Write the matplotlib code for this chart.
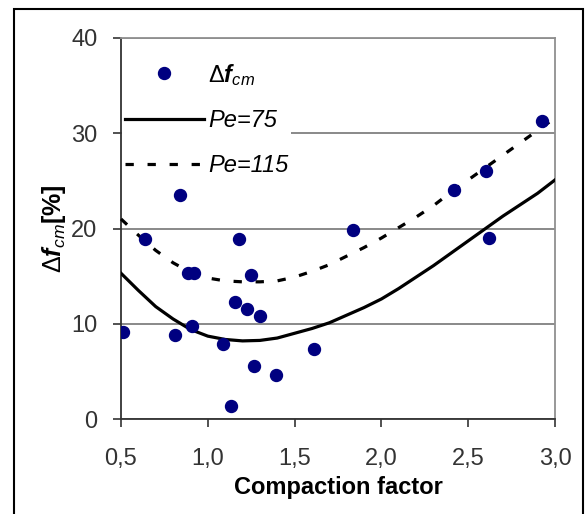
import matplotlib as mpl

mpl.use("Agg")
import matplotlib.pyplot as plt
from matplotlib.patches import Rectangle

plt.rcParams["font.family"] = ["Liberation Sans", "DejaVu Sans"]
plt.rcParams["mathtext.fontset"] = "custom"
plt.rcParams["mathtext.rm"] = "Liberation Sans"
plt.rcParams["mathtext.it"] = "Liberation Sans:italic"
plt.rcParams["mathtext.bf"] = "Liberation Sans:italic:bold"

# measured points (compaction factor, delta f_cm in %)
cf_points = [0.51, 0.64, 0.81, 0.84, 0.886, 0.91, 0.92, 1.09, 1.134, 1.157,
             1.18, 1.226, 1.25, 1.266, 1.30, 1.39, 1.61, 1.836, 2.42, 2.60,
             2.62, 2.925]
dfcm_points = [9.15, 18.9, 8.8, 23.5, 15.3, 9.8, 15.3, 7.9, 1.4, 12.3,
               18.9, 11.5, 15.1, 5.6, 10.8, 4.6, 7.3, 19.8, 24.0, 26.0,
               19.0, 31.3]

# model curves
cf_curve = [0.5, 0.6, 0.7, 0.8, 0.9, 1.0, 1.1, 1.2, 1.3, 1.4, 1.5, 1.6, 1.7,
            1.8, 1.9, 2.0, 2.1, 2.2, 2.3, 2.4, 2.5, 2.6, 2.7, 2.8, 2.9, 3.0]
pe75 = [15.3, 13.5, 11.8, 10.5, 9.4, 8.7, 8.35, 8.2, 8.25, 8.5, 9.0, 9.5,
        10.1, 10.9, 11.7, 12.6, 13.7, 14.9, 16.1, 17.4, 18.7, 20.0, 21.3,
        22.5, 23.7, 25.1]
pe115 = [21.0, 19.3, 17.7, 16.4, 15.4, 14.8, 14.5, 14.4, 14.4, 14.5, 14.9,
         15.5, 16.2, 17.1, 18.0, 19.0, 20.1, 21.2, 22.4, 23.8, 25.1, 26.4,
         27.7, 29.0, 30.3, 31.6]

xticks = [0.5, 1.0, 1.5, 2.0, 2.5, 3.0]
xtick_labels = ["0,5", "1,0", "1,5", "2,0", "2,5", "3,0"]
yticks = [0, 10, 20, 30, 40]

fig = plt.figure(figsize=(5.85, 5.14), dpi=100)
ax = fig.add_axes([121 / 585, 95 / 514, 434 / 585, 381 / 514])

ax.plot(cf_curve, pe75, color="black", lw=2.3, label="Pe=75", zorder=3)
ax.plot(cf_curve, pe115, color="black", lw=2.3, ls=(0, (2.6, 4.3)),
        label="Pe=115", zorder=3, clip_on=False)
ax.plot(cf_points, dfcm_points, ls="none", marker="o", ms=8.6,
        color="#000080", label=r"$\mathit{\Delta}\mathbf{f}_{\mathit{cm}}$",
        zorder=4)

ax.set_xlim(0.5, 3.0)
ax.set_ylim(0, 40)
ax.set_xticks(xticks)
ax.set_xticklabels(xtick_labels)
ax.set_yticks(yticks)
ax.tick_params(labelsize=17, labelcolor="#333333", color="#333333",
               direction="out", length=6, width=1.2)
ax.tick_params(axis="y", pad=11)
ax.tick_params(axis="x", pad=15)

ax.grid(axis="y", color="#808080", lw=1.3)
ax.set_axisbelow(True)
for side in ("left", "bottom"):
    ax.spines[side].set_color("#333333")
    ax.spines[side].set_linewidth(1.3)
for side in ("top", "right"):
    ax.spines[side].set_color("#909090")
    ax.spines[side].set_linewidth(1.3)

ax.set_xlabel("Compaction factor", fontsize=17, fontweight="bold", labelpad=4)
ax.set_ylabel(r"$\mathit{\Delta}\mathbf{f}_{\mathit{cm}}$[%]", fontsize=18,
              fontweight="bold", labelpad=2)

handles, labels = ax.get_legend_handles_labels()
order = [2, 0, 1]
leg = ax.legend([handles[i] for i in order], [labels[i] for i in order],
                loc="upper left", bbox_to_anchor=(0.003, 0.944), borderaxespad=0,
                borderpad=0.1, handlelength=3.35, handletextpad=0.2,
                labelspacing=0.92, numpoints=1, frameon=True, fancybox=False,
                edgecolor="none", facecolor="white", framealpha=1,
                prop={"family": "Liberation Sans", "style": "italic", "size": 17})
leg.set_zorder(2.4)  # keep the left spine visible over the white legend box

# chart area frame
fig.patches.append(Rectangle((14 / 585, -0.02), 569 / 585, 1 - 9 / 514 + 0.02,
                             transform=fig.transFigure, fill=False,
                             edgecolor="black", lw=1.5))

fig.savefig("out.png", dpi=100)
